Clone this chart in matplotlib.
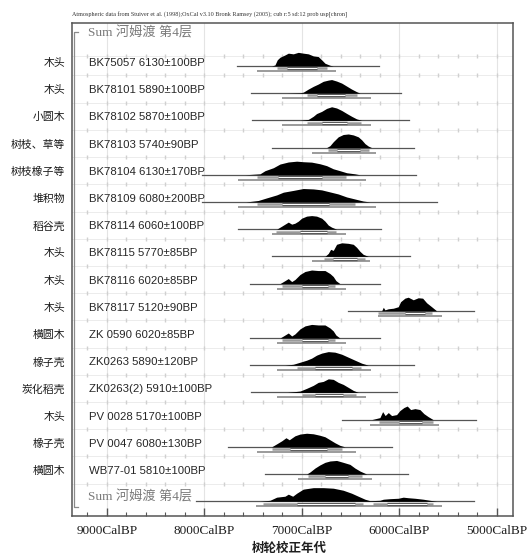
import numpy as np
import matplotlib
matplotlib.use("Agg")
import matplotlib.pyplot as plt
from matplotlib.transforms import blended_transform_factory

plt.rcParams['font.family'] = ['Liberation Sans', 'Noto Sans CJK SC']

# étiquettes
materials = ["木头", "木头", "小圆木", "树枝、草等", "树枝橡子等", "堆积物", "稻谷壳", "木头",
             "木头", "木头", "横圆木", "橡子壳", "炭化稻壳", "木头", "橡子壳", "横圆木", ""]
samples = ["BK75057 6130±100BP", "BK78101 5890±100BP", "BK78102 5870±100BP", "BK78103 5740±90BP",
           "BK78104 6130±170BP", "BK78109 6080±200BP", "BK78114 6060±100BP", "BK78115 5770±85BP",
           "BK78116 6020±85BP", "BK78117 5120±90BP", "ZK 0590 6020±85BP", "ZK0263 5890±120BP",
           "ZK0263(2) 5910±100BP", "PV 0028 5170±100BP", "PV 0047 6080±130BP", "WB77-01 5810±100BP",
           "Sum 河姆渡 第4层"]
sum_label = "Sum 河姆渡 第4层"
header = ("Atmospheric data from Stuiver et al. (1998);OxCal v3.10 Bronk Ramsey (2005); "
          "cub r:5 sd:12 prob usp[chron]")
tick_years = [9000, 8000, 7000, 6000, 5000]

# contours des distributions (calBP, hauteur relative)
dist_cal = [
    [7310, 7276, 7252, 7224, 7173, 7139, 7088, 7037, 6985, 6934, 6883, 6832, 6797, 6763, 6712, 6678],
    [7156, 7019, 6986, 6934, 6883, 6832, 6781, 6729, 6695, 6644, 6592, 6541, 6490, 6439, 6404],
    [7019, 6934, 6883, 6849, 6797, 6746, 6695, 6644, 6592, 6541, 6490, 6439, 6387],
    [6746, 6712, 6678, 6627, 6576, 6524, 6473, 6422, 6387, 6353, 6319, 6285],
    [7583, 7429, 7378, 7292, 7224, 7139, 7053, 6985, 6900, 6815, 6746, 6678, 6610, 6541, 6456, 6404],
    [7573, 7447, 7361, 7258, 7190, 7088, 6986, 6883, 6797, 6712, 6627, 6541, 6456, 6371, 6302],
    [7258, 7207, 7173, 7139, 7104, 7071, 7037, 7002, 6951, 6900, 6849, 6797, 6763, 6729, 6695, 6644],
    [6763, 6729, 6705, 6678, 6644, 6592, 6524, 6473, 6439, 6404, 6371, 6319],
    [7224, 7173, 7139, 7104, 7071, 7019, 6968, 6900, 6832, 6763, 6712, 6678, 6651, 6610],
    [6182, 6165, 6148, 6114, 6063, 6012, 5988, 5944, 5910, 5858, 5807, 5762, 5721, 5670, 5619],
    [7224, 7173, 7139, 7104, 7071, 7019, 6968, 6900, 6832, 6763, 6712, 6678, 6651, 6610],
    [7173, 7088, 7019, 6951, 6900, 6849, 6797, 6729, 6661, 6592, 6524, 6456, 6387, 6319],
    [7150, 7019, 6951, 6883, 6832, 6781, 6729, 6678, 6627, 6576, 6524, 6473, 6422],
    [6285, 6200, 6172, 6146, 6114, 6080, 6029, 5995, 5954, 5920, 5885, 5841, 5790, 5749, 5705, 5654],
    [7310, 7258, 7207, 7163, 7129, 7071, 7019, 6951, 6883, 6815, 6763, 6712, 6661, 6610, 6558],
    [6951, 6917, 6866, 6815, 6763, 6712, 6644, 6576, 6507, 6456, 6404, 6336],
    [7429, 7327, 7258, 7173, 7139, 7094, 7053, 6986, 6883, 6781, 6678, 6576, 6490, 6422, 6353, 6302,
     6200, 6165, 6097, 6012, 5961, 5910, 5841, 5756, 5687, 5619],
]
dist_h = [
    [0, .07, .45, .64, .81, .94, .89, 1, .94, .89, .74, .69, .45, .2, .05, 0],
    [0, .03, .07, .3, .5, .67, .87, .96, 1, .89, .74, .52, .3, .11, 0],
    [0, .07, .3, .5, .66, .88, 1, .91, .73, .51, .3, .11, 0],
    [0, .14, .43, .79, .96, 1, .93, .79, .57, .29, .11, 0],
    [0, .07, .3, .52, .79, .94, 1, .96, .93, .81, .67, .44, .3, .15, .07, 0],
    [0, .11, .3, .52, .72, .85, .99, .96, .89, .74, .59, .37, .22, .07, 0],
    [0, .22, .37, .52, .37, .44, .59, .81, .96, 1, .96, .81, .59, .3, .15, 0],
    [0, .22, .52, .44, .89, 1, .96, .89, .67, .37, .15, 0],
    [0, .22, .37, .15, .3, .67, .89, 1, .96, .96, .74, .52, .22, 0],
    [0, .26, .07, .15, .19, .3, .67, .93, 1, .81, .96, .93, .59, .3, 0],
    [0, .22, .37, .15, .3, .67, .89, 1, .96, .96, .74, .52, .22, 0],
    [0, .07, .22, .37, .52, .74, .89, 1, .96, .81, .59, .37, .15, 0],
    [0, .1, .3, .52, .74, .81, 1, .96, .74, .59, .37, .15, 0],
    [0, .15, .59, .3, .52, .3, .37, .67, .89, 1, .74, .81, .74, .44, .22, 0],
    [0, .22, .44, .67, .52, .81, .94, 1, .96, .85, .74, .52, .3, .11, 0],
    [0, .15, .44, .67, .86, .96, 1, .86, .71, .44, .22, 0],
    [0, .07, .3, .37, .52, .37, .59, .89, 1, 1, .96, .81, .59, .37, .15, .04,
     .07, .15, .19, .22, .3, .26, .22, .15, .07, 0],
]

# étendue totale et intervalles
line_rng = [(7668, 6213), (7522, 5988), (7515, 5900), (7310, 5848), (8027, 5831), (8027, 5619),
            (7652, 6193), (7310, 5892), (7532, 6200), (6524, 5238), (7532, 6200), (7532, 5848),
            (7525, 6023), (6592, 5216), (7760, 6074), (7380, 5910), (8083, 5238)]
rng95 = [[(7258, 6746)], [(6951, 6439)], [(6951, 6398)], [(6736, 6310)], [(7457, 6548)],
         [(7457, 6456)], [(7265, 6651)], [(6773, 6353)], [(7207, 6661)], [(6220, 5670)],
         [(7207, 6661)], [(7054, 6398)], [(7002, 6446)], [(6207, 5660)], [(7310, 6592)],
         [(6934, 6387)], [(7400, 6370), (6268, 5653)]]
rng68 = [[(7156, 6849)], [(6849, 6558)], [(6797, 6541)], [(6644, 6404)], [(7242, 6797)],
         [(7207, 6719)], [(7019, 6746)], [(6678, 6439)], [(7002, 6729)], [(5944, 5739)],
         [(7002, 6729)], [(6866, 6490)], [(6866, 6576)], [(6002, 5773)], [(7122, 6746)],
         [(6763, 6524)], [(7054, 6456), (6130, 5720)]]
rng99 = [[(7457, 6651)], [(7207, 6295)], [(7207, 6295)], [(6900, 6244)], [(7652, 6343)],
         [(7652, 6241)], [(7310, 6548)], [(6900, 6302)], [(7258, 6548)], [(6220, 5568)],
         [(7258, 6548)], [(7258, 6295)], [(7252, 6346)], [(6302, 5592)], [(7457, 6449)],
         [(7037, 6285)], [(7468, 5568)]]

fig = plt.figure(figsize=(5.28, 5.59), dpi=100)
ax = fig.add_axes([0.1358, 0.0775, 0.8352, 0.8819])
ax.set_xlim(9359, 4839)
ax.set_ylim(17.53, -0.59)

# grille
for v in tick_years:
    ax.axvline(v, color='#e4e4e4', lw=0.8, zorder=0)
minor = np.arange(9200, 4800, -200)
seps = [0.62] + [r + 0.35 for r in range(1, 17)]
for s in seps:
    ax.axhline(s, color='#ececec', lw=0.7, zorder=0)
    ax.plot(minor, [s] * len(minor), '|', ms=3, color='#d0d0d0', zorder=0)

trans = blended_transform_factory(ax.transAxes, ax.transData)

for i in range(len(samples)):
    y = i + 1
    cal = np.array(dist_cal[i])
    h = np.array(dist_h[i])
    ax.fill_between(cal, y, y - h * 0.5, color='black', lw=0, zorder=3)
    ax.plot(line_rng[i], [y, y], color='#555555', lw=0.9, zorder=2)
    for seg in rng95[i]:
        ax.plot(seg, [y + 0.085] * 2, color='#9a9a9a', lw=1.8, solid_capstyle='butt', zorder=2)
    for seg in rng68[i]:
        ax.plot(seg, [y + 0.085] * 2, color='#444444', lw=2.4, solid_capstyle='butt', zorder=3)
        ax.plot(seg, [y + 0.085] * 2, color='white', lw=0.9, solid_capstyle='butt', zorder=4)
    for seg in rng99[i]:
        ax.plot(seg, [y + 0.185] * 2, color='#8a8a8a', lw=1.2, solid_capstyle='butt', zorder=2)
    if i < 16:
        ax.text(0.039, y - 0.11, samples[i], transform=trans, ha='left', va='center',
                fontsize=8.2, color='#262626')
        ax.text(-0.015, y - 0.11, materials[i], transform=trans, ha='right', va='center',
                fontsize=7.8, color='#1a1a1a', clip_on=False)

# Sum en haut et en bas
for y in [-0.21, 16.82]:
    ax.text(0.037, y, sum_label, transform=trans, ha='left', va='center', fontsize=9.5,
            color='#7a7a7a', family=['Liberation Serif', 'Noto Sans CJK SC'])
ax.plot([0.0154, 0.0052, 0.0052, 0.0154], [-0.26, -0.26, 17.22, 17.22], transform=trans,
        color='#8a8a8a', lw=0.9, clip_on=False)

# axes
for sp in ax.spines.values():
    sp.set_color('#555555')
    sp.set_linewidth(1.1)
ax.set_yticks([])
ax.set_xticks(tick_years)
ax.set_xticks(minor, minor=True)
ax.set_xticklabels([f"{v}CalBP" for v in tick_years], family='Liberation Serif',
                   fontsize=9.5, color='#1e1e1e')
ax.tick_params(axis='x', which='major', direction='in', length=6, width=1, color='#555555', pad=7)
ax.tick_params(axis='x', which='minor', direction='in', length=3, width=0.8, color='#555555')

fig.text(0.548, 0.018, "树轮校正年代", ha='center', va='center', fontsize=9,
         fontweight='bold', family=['Noto Sans CJK SC'], color='#1e1e1e')
fig.text(0.136, 0.973, header, ha='left', va='center', fontsize=4.4,
         family='Liberation Serif', color='#333333')

fig.savefig("out.png", dpi=100)
